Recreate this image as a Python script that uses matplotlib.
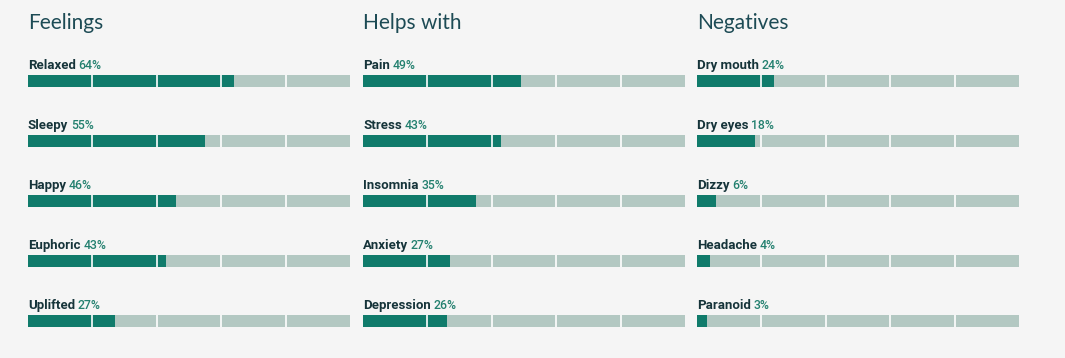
import matplotlib.pyplot as plt

# data
titles = ['Feelings', 'Helps with', 'Negatives']
feelings = ['Relaxed', 'Sleepy', 'Happy', 'Euphoric', 'Uplifted']
feelings_pct = [64, 55, 46, 43, 27]
helps = ['Pain', 'Stress', 'Insomnia', 'Anxiety', 'Depression']
helps_pct = [49, 43, 35, 27, 26]
negatives = ['Dry mouth', 'Dry eyes', 'Dizzy', 'Headache', 'Paranoid']
negatives_pct = [24, 18, 6, 4, 3]

BG = '#f5f5f5'
DARK = '#107b6b'
LIGHT = '#b3c8c2'
TITLE_C = '#1d4b55'
LABEL_C = '#16343a'
PCT_C = '#23806f'

W, H = 1065, 358
fig = plt.figure(figsize=(W / 100, H / 100), dpi=100, facecolor=BG)

columns = [(titles[0], feelings, feelings_pct),
           (titles[1], helps, helps_pct),
           (titles[2], negatives, negatives_pct)]
lefts = [28, 363, 697]
col_w = 322

for left, (title, names, pcts) in zip(lefts, columns):
    ax = fig.add_axes([left / W, 0, col_w / W, 1])
    ax.set_xlim(0, 100)
    ax.set_ylim(H, 0)
    ax.axis('off')
    ax.set_facecolor('none')

    ax.text(0, 23, title, fontsize=15, family='Lato', fontweight='normal',
            color=TITLE_C, va='center', ha='left')

    centers = [81 + 60 * i for i in range(len(names))]
    ax.barh(centers, [100] * len(names), height=12, color=LIGHT, left=0)
    ax.barh(centers, pcts, height=12, color=DARK, left=0)
    for c in centers:
        ax.vlines([20, 40, 60, 80], c - 6, c + 6, color='white', lw=1.2)

    for c, name, p in zip(centers, names, pcts):
        t = ax.text(0, c - 12, name, fontsize=9.5, family='Roboto',
                    fontweight='bold', color=LABEL_C, va='baseline', ha='left')
        ax.annotate(f'{p}%', xy=(1, 0), xycoords=t, xytext=(2, 0),
                    textcoords='offset points', fontsize=8.8, family='Roboto',
                    fontweight='medium', color=PCT_C, va='bottom', ha='left')

fig.savefig('out.png', dpi=100, facecolor=BG)
